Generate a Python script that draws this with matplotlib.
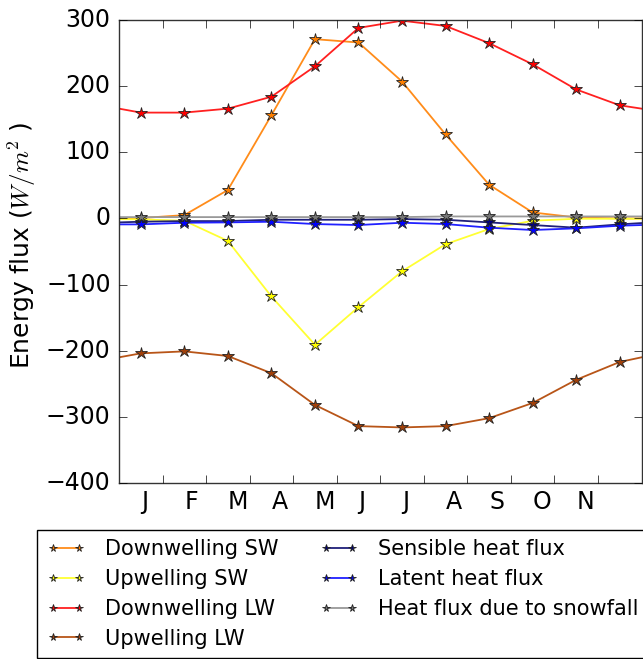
"""Monthly surface energy flux components, classic matplotlib look."""

import matplotlib
matplotlib.use('Agg')
import matplotlib.pyplot as plt
import numpy as np

# Month labels shown on the x axis (no December label in the original)
MONTH_LABELS = ["J", "F", "M", "A", "M", "J", "J", "A", "S", "O", "N"]

# Values in W/m^2: first and last entries are where the curve meets the
# left / right axis edge, the 12 middle entries are the monthly means.
DOWN_SW = [0, 0.5, 5, 43, 156, 271, 266, 207, 127, 51, 9, 1.5, 0, 0]
UP_SW = [-1, -1.5, -3.5, -34, -118, -191, -134, -80, -39, -16, -3.5, -0.5, -0.5, -0.5]
DOWN_LW = [166, 160, 160, 166, 184, 230, 288, 299, 291, 265, 233, 195, 171, 166]
UP_LW = [-210, -204, -201, -208, -234, -282, -314, -316, -314, -302, -279, -244, -217, -210]
SENSIBLE = [-6, -5, -4, -4, -2, -2, -2, -1, -2, -6, -10, -14, -9, -7]
LATENT = [-9, -9, -6.5, -6, -5, -8.5, -10, -6.5, -8.5, -14, -17.5, -15, -11, -10]
SNOWFALL = [2, 2, 2, 2, 2, 2, 2, 2, 3, 3, 3, 3, 3, 3]

SERIES = [
    ("Downwelling SW", DOWN_SW, "#ff8c1a", "#ff7f00"),
    ("Upwelling SW", UP_SW, "#ffff33", "#ffff00"),
    ("Downwelling LW", DOWN_LW, "#ff2020", "#ff0000"),
    ("Upwelling LW", UP_LW, "#b85518", "#a0400a"),
    ("Sensible heat flux", SENSIBLE, "#20207a", "#000080"),
    ("Latent heat flux", LATENT, "#2020ff", "#0000ff"),
    ("Heat flux due to snowfall", SNOWFALL, "#999999", "#777777"),
]

plt.style.use('classic')
plt.rcParams['savefig.facecolor'] = 'white'
plt.rcParams['figure.facecolor'] = 'white'

# x positions: axis edges plus month mid-points
x = np.concatenate([[0.0], np.arange(12) + 0.5, [12.0]])

fig = plt.figure(figsize=(6.43, 6.59), dpi=100)
ax = fig.add_axes([119 / 643, 1 - 483 / 659, (641.5 - 119) / 643, (483 - 20) / 659])

for label, values, line_color, marker_color in SERIES:
    ax.plot(
        x, values,
        color=line_color,
        linewidth=1.3,
        marker='*',
        markersize=9,
        markerfacecolor=marker_color,
        markeredgecolor='#222222',
        markeredgewidth=0.6,
        markevery=list(range(1, 13)),
        label=label,
    )

ax.set_xlim(0, 12)
ax.set_ylim(-400, 300)
ax.set_yticks(np.arange(-400, 301, 100))

# Tick marks between months, labels start at each month's point
ax.set_xticks(np.arange(1, 12))
ax.set_xticklabels([])
ax.set_xticks(np.arange(11) + 0.5, minor=True)
ax.set_xticklabels(MONTH_LABELS, minor=True, ha='left')
ax.tick_params(axis='x', which='minor', length=0, labelsize=17, pad=5)
ax.tick_params(axis='both', which='major', labelsize=17, direction='in', length=6)
ax.tick_params(axis='y', which='major', pad=6)

ax.set_ylabel(r"Energy flux ($W/m^2$ )", fontsize=18)
ax.yaxis.set_label_coords(-0.155, 0.514)

for spine in ax.spines.values():
    spine.set_color('#333333')

fig.legend(
    loc='upper left',
    bbox_to_anchor=(37 / 643, 1 - 530 / 659),
    borderaxespad=0,
    ncol=2,
    fontsize=15,
    numpoints=2,
    markerscale=0.6,
    handlelength=1.85,
    handletextpad=0.95,
    columnspacing=2.0,
    labelspacing=0.47,
    borderpad=0.45,
    frameon=True,
    fancybox=False,
)

fig.savefig("out.png", dpi=100)
plt.close(fig)
